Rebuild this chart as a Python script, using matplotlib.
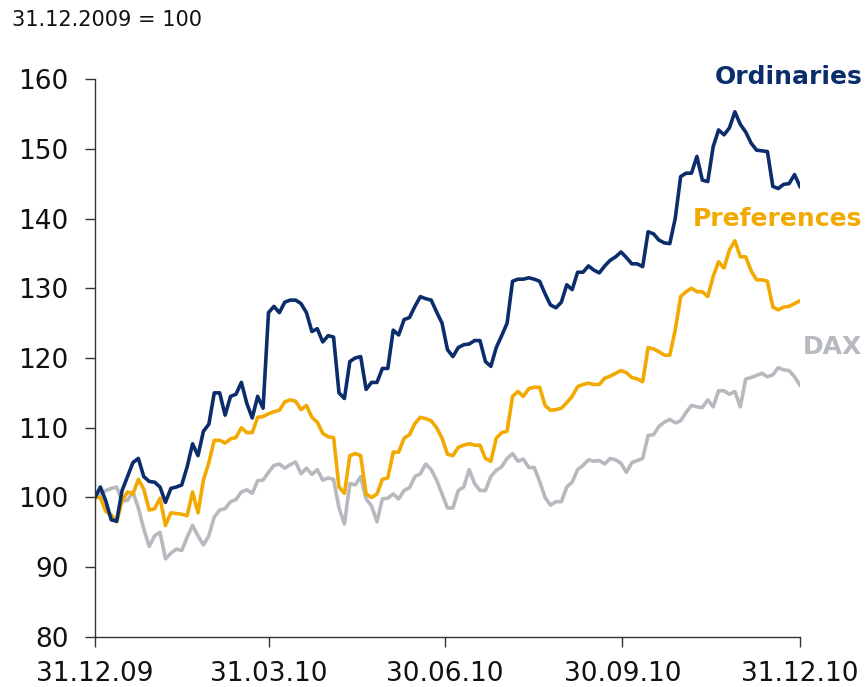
import matplotlib
matplotlib.use("Agg")
import matplotlib.pyplot as plt
import matplotlib.dates as mdates
import numpy as np
import pandas as pd

# index values (31.12.2009 = 100) at evenly spaced dates
ordinaries = [
    100, 101.5, 99.5, 96.8, 96.6, 101, 103, 105, 105.6, 103,
    102.3, 102.2, 101.5, 99.3, 101.3, 101.5, 101.8, 104.4, 107.7, 106,
    109.5, 110.5, 115, 115, 111.8, 114.5, 114.8, 116.5, 113.5, 111.4,
    114.5, 112.8, 126.5, 127.4, 126.5, 128, 128.3, 128.3, 127.8, 126.5,
    123.8, 124.2, 122.3, 123.2, 123, 115, 114.2, 119.5, 120, 120.2,
    115.5, 116.5, 116.5, 118.5, 118.5, 124, 123.3, 125.5, 125.8, 127.4,
    128.8, 128.5, 128.3, 126.6, 125, 121.2, 120.2, 121.5, 121.9, 122,
    122.5, 122.5, 119.5, 118.8, 121.5, 123.2, 125, 131, 131.3, 131.3,
    131.5, 131.3, 131, 129.2, 127.6, 127.2, 128, 130.5, 129.8, 132.3,
    132.3, 133.2, 132.6, 132.2, 133.2, 134, 134.5, 135.2, 134.4, 133.5,
    133.5, 133.1, 138.1, 137.8, 136.9, 136.5, 136.4, 140, 146, 146.5,
    146.5, 148.9, 145.5, 145.3, 150.3, 152.7, 152, 153, 155.3, 153.5,
    152.4, 150.8, 149.8, 149.7, 149.6, 144.6, 144.3, 144.9, 145, 146.3,
    144.6,
]
preferences = [
    100, 100, 98, 97.5, 96.5, 99.5, 100.8, 100.5, 102.6, 101.2,
    98.2, 98.4, 99.9, 96, 97.8, 97.7, 97.6, 97.4, 100.8, 97.8,
    102.5, 105, 108.2, 108.2, 107.8, 108.4, 108.6, 110, 109.3, 109.3,
    111.5, 111.6, 112, 112.3, 112.5, 113.7, 114, 113.8, 112.6, 113.2,
    111.5, 110.8, 109.2, 108.7, 108.6, 101.5, 100.6, 106, 106.3, 106,
    100.5, 100, 100.5, 102.6, 102.8, 106.5, 106.5, 108.5, 109, 110.6,
    111.5, 111.3, 111, 110, 108.5, 106.2, 106, 107.2, 107.5, 107.7,
    107.5, 107.5, 105.6, 105.2, 108.5, 109.3, 109.5, 114.5, 115.2, 114.5,
    115.6, 115.8, 115.8, 113.2, 112.5, 112.6, 112.8, 113.6, 114.5, 115.9,
    116.2, 116.4, 116.2, 116.2, 117.1, 117.4, 117.8, 118.2, 117.9, 117.2,
    117, 116.6, 121.5, 121.3, 120.9, 120.4, 120.4, 124, 128.8, 129.5,
    130, 129.5, 129.5, 128.8, 131.7, 133.8, 132.9, 135.5, 136.8, 134.5,
    134.5, 132.5, 131.2, 131.2, 131, 127.3, 126.9, 127.3, 127.4, 127.8,
    128.2,
]
dax = [
    100, 100.5, 101, 101.3, 101.5, 99.5, 99.6, 100.8, 98.5, 95.5,
    93, 94.5, 95, 91.2, 92, 92.6, 92.4, 94.3, 96, 94.5,
    93.2, 94.5, 97.2, 98.2, 98.4, 99.4, 99.7, 100.8, 101.1, 100.6,
    102.4, 102.5, 103.6, 104.6, 104.8, 104.2, 104.7, 105.1, 103.4, 104.2,
    103.3, 104, 102.5, 102.8, 102.6, 98.5, 96.2, 102, 101.8, 103,
    99.8, 98.8, 96.5, 99.8, 99.9, 100.5, 99.8, 101, 101.4, 103,
    103.4, 104.8, 104, 102.5, 100.5, 98.5, 98.5, 101, 101.5, 104,
    102, 101, 101, 103, 103.9, 104.4, 105.6, 106.3, 105.2, 105.5,
    104.3, 104.3, 102.3, 100, 98.9, 99.4, 99.4, 101.5, 102.2, 104,
    104.6, 105.4, 105.2, 105.3, 104.8, 105.6, 105.4, 104.9, 103.6, 105,
    105.3, 105.6, 108.9, 109, 110.2, 110.8, 111.2, 110.7, 111, 112.2,
    113.2, 113, 112.9, 114, 113, 115.3, 115.3, 114.8, 115.2, 113,
    117, 117.2, 117.5, 117.8, 117.3, 117.6, 118.6, 118.3, 118.2, 117.3,
    116.1,
]
series_names = ["Ordinaries", "Preferences", "DAX"]
tick_dates = ["2009-12-31", "2010-03-31", "2010-06-30", "2010-09-30", "2010-12-31"]

NAVY = "#0b2d6b"
ORANGE = "#f2a900"
GREY = "#b6b9be"

dates = pd.date_range("2009-12-31", "2010-12-31", periods=len(ordinaries))

fig = plt.figure(figsize=(8.68, 6.87), dpi=100)
ax = fig.add_axes([0.1094, 0.0728, 0.8122, 0.8122])

# DAX first so the company lines sit on top
ax.plot(dates, dax, color=GREY, lw=2.6, solid_joinstyle="round")
ax.plot(dates, preferences, color=ORANGE, lw=2.6, solid_joinstyle="round")
ax.plot(dates, ordinaries, color=NAVY, lw=2.6, solid_joinstyle="round")

ax.set_xlim(pd.Timestamp("2009-12-31"), pd.Timestamp("2010-12-31"))
ax.set_ylim(80, 160)
ax.set_yticks(np.arange(80, 161, 10))
ax.set_xticks(pd.to_datetime(tick_dates))
ax.xaxis.set_major_formatter(mdates.DateFormatter("%d.%m.%y"))

for s in ["top", "right"]:
    ax.spines[s].set_visible(False)
for s in ["left", "bottom"]:
    ax.spines[s].set_linewidth(1.0)
    ax.spines[s].set_color("#333333")
ax.spines["left"].set_bounds(80, 160)

ax.tick_params(axis="both", direction="out", length=7, width=1.0,
               color="#333333", labelsize=19, labelcolor="#111111")
ax.tick_params(axis="y", pad=12)
ax.tick_params(axis="x", pad=10)

fig.text(12 / 868, 1 - 20 / 687, "31.12.2009 = 100", fontsize=15,
         color="#111111", ha="left", va="center")

label_colors = [NAVY, ORANGE, GREY]
label_y = [77, 219, 347]
for name, c, yp in zip(series_names, label_colors, label_y):
    fig.text(862 / 868, 1 - yp / 687, name, fontsize=18, fontweight="bold",
             color=c, ha="right", va="center")

fig.savefig("out.png", dpi=100)
